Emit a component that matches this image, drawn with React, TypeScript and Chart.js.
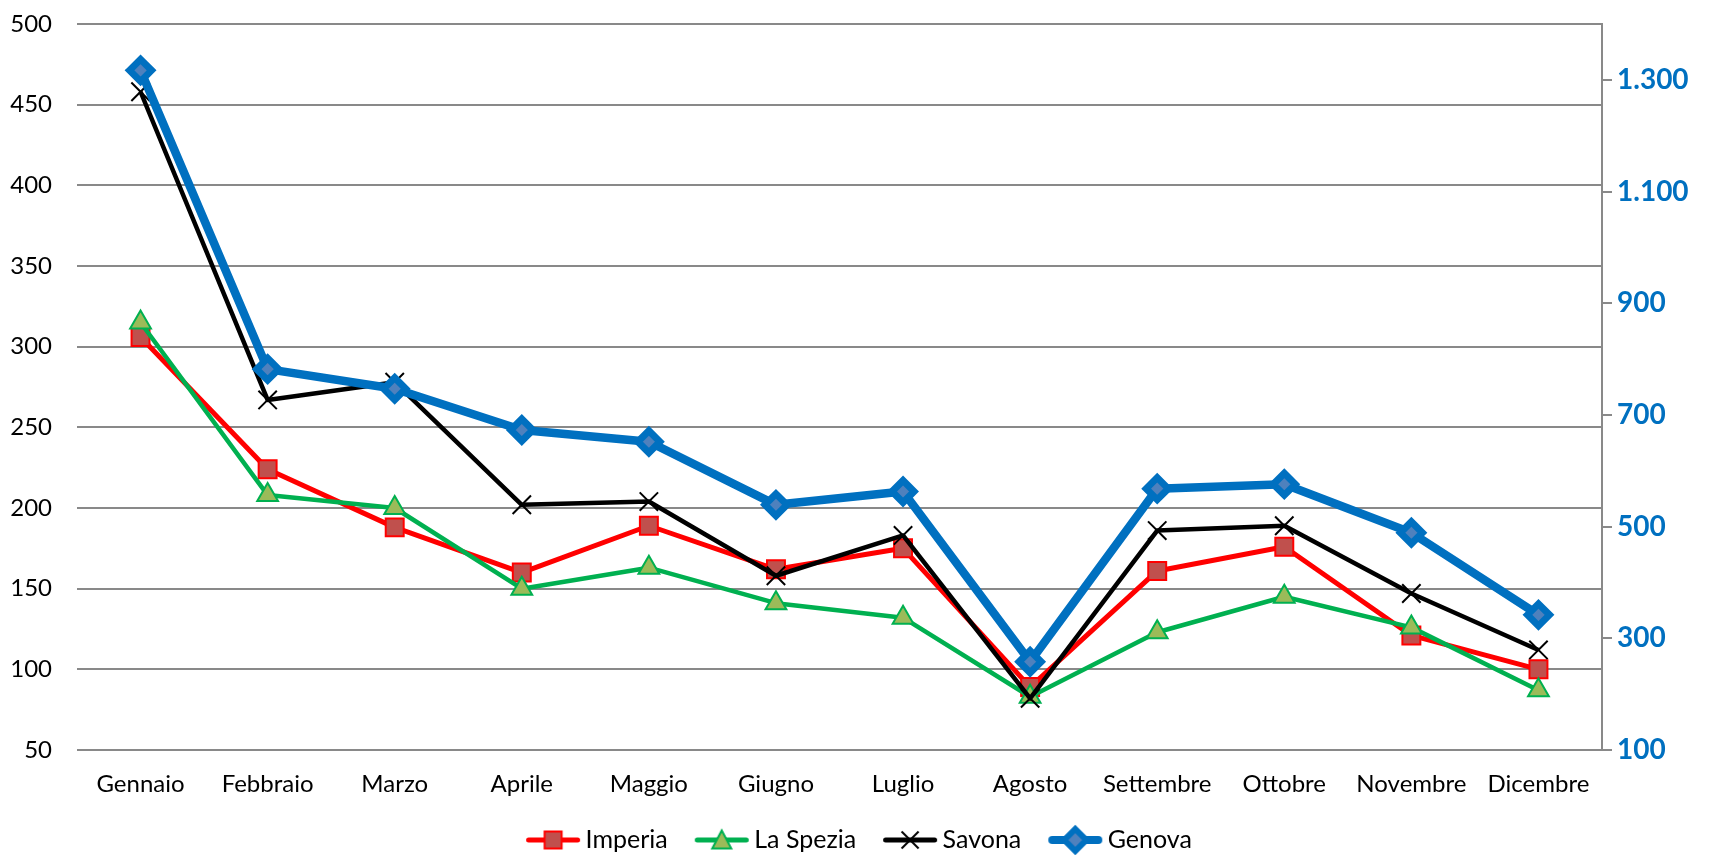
import React, { useEffect, useRef } from 'react';
import { Chart, registerables } from 'chart.js';

Chart.register(...registerables);

const months = ['Gennaio', 'Febbraio', 'Marzo', 'Aprile', 'Maggio', 'Giugno', 'Luglio', 'Agosto', 'Settembre', 'Ottobre', 'Novembre', 'Dicembre'];
const imperia = [306, 224, 188, 160, 189, 162, 175, 89, 161, 176, 121, 100];
const laSpezia = [315, 208, 200, 150, 163, 141, 132, 83, 123, 145, 126, 87];
const savona = [458, 267, 278, 202, 204, 158, 183, 82, 186, 189, 147, 112];
const genova = [1317, 782, 747, 673, 652, 539, 563, 258, 568, 576, 489, 342];
const rightTicks = [100, 300, 500, 700, 900, 1100, 1300];

const FONT = 'Lato, "Open Sans", sans-serif';
const GRID = '#898989';

function fmtIt(v: number): string {
  return Math.round(v).toString().replace(/\B(?=(\d{3})+(?!\d))/g, '.');
}

type MarkerKind = 'rect' | 'triangle' | 'crossRot' | 'rectRot';

function makeIcon(color: string, lw: number, kind: MarkerKind, fill: string, stroke: string, sw: number, size: number): HTMLCanvasElement {
  const c = document.createElement('canvas');
  c.width = 56;
  c.height = 34;
  const ctx = c.getContext('2d') as CanvasRenderingContext2D;
  const cx = 28;
  const cy = 17;
  ctx.strokeStyle = color;
  ctx.lineWidth = lw;
  ctx.lineCap = 'round';
  ctx.beginPath();
  ctx.moveTo(lw / 2 + 1, cy);
  ctx.lineTo(56 - lw / 2 - 1, cy);
  ctx.stroke();
  ctx.lineCap = 'butt';
  ctx.fillStyle = fill;
  ctx.strokeStyle = stroke;
  ctx.lineWidth = sw;
  ctx.beginPath();
  const h = size / 2;
  if (kind === 'rect') {
    ctx.rect(cx - h, cy - h, size, size);
    ctx.fill();
    ctx.stroke();
  } else if (kind === 'triangle') {
    ctx.moveTo(cx, cy - h - 1);
    ctx.lineTo(cx + h + 1, cy + h);
    ctx.lineTo(cx - h - 1, cy + h);
    ctx.closePath();
    ctx.fill();
    ctx.stroke();
  } else if (kind === 'crossRot') {
    ctx.moveTo(cx - h, cy - h);
    ctx.lineTo(cx + h, cy + h);
    ctx.moveTo(cx + h, cy - h);
    ctx.lineTo(cx - h, cy + h);
    ctx.stroke();
  } else {
    ctx.moveTo(cx, cy - h);
    ctx.lineTo(cx + h, cy);
    ctx.lineTo(cx, cy + h);
    ctx.lineTo(cx - h, cy);
    ctx.closePath();
    ctx.fill();
    ctx.stroke();
  }
  return c;
}

const legendShift = {
  id: 'legendShift',
  afterLayout(chart: any) {
    if (chart.legend) {
      chart.legend.left += 8;
      chart.legend.right += 8;
      chart.legend.top -= 5.5;
      chart.legend.bottom -= 5.5;
    }
  },
};

export default function App() {
  const ref = useRef<HTMLCanvasElement | null>(null);

  useEffect(() => {
    if (!ref.current) return;
    const icons = [
      makeIcon('#FF0000', 5, 'rect', '#C0504D', '#FF0000', 2, 17),
      makeIcon('#00B050', 5, 'triangle', '#9BBB59', '#00B050', 2, 17),
      makeIcon('#000000', 5, 'crossRot', '#000000', '#000000', 2, 17),
      makeIcon('#0070C0', 8, 'rectRot', '#4F81BD', '#0070C0', 6, 22),
    ];
    const tickFont = { family: FONT, size: 24 };
    const chart = new Chart(ref.current, {
      type: 'line',
      data: {
        labels: months,
        datasets: [
          {
            label: 'Imperia',
            data: imperia,
            yAxisID: 'y',
            borderColor: '#FF0000',
            backgroundColor: '#C0504D',
            borderWidth: 5,
            borderJoinStyle: 'round',
            pointStyle: 'rect',
            pointRadius: 12.7,
            pointBorderWidth: 2,
            pointBorderColor: '#FF0000',
            pointBackgroundColor: '#C0504D',
            tension: 0,
            order: 4,
          },
          {
            label: 'La Spezia',
            data: laSpezia,
            yAxisID: 'y',
            borderColor: '#00B050',
            backgroundColor: '#9BBB59',
            borderWidth: 4.5,
            borderJoinStyle: 'round',
            pointStyle: 'triangle',
            pointRadius: 12,
            pointBorderWidth: 2,
            pointBorderColor: '#00B050',
            pointBackgroundColor: '#9BBB59',
            tension: 0,
            order: 3,
          },
          {
            label: 'Savona',
            data: savona,
            yAxisID: 'y',
            borderColor: '#000000',
            backgroundColor: '#000000',
            borderWidth: 4.5,
            borderJoinStyle: 'round',
            pointStyle: 'crossRot',
            pointRadius: 13,
            pointBorderWidth: 2,
            pointBorderColor: '#000000',
            pointBackgroundColor: '#000000',
            tension: 0,
            order: 2,
          },
          {
            label: 'Genova',
            data: genova,
            yAxisID: 'y2',
            borderColor: '#0070C0',
            backgroundColor: '#4F81BD',
            borderWidth: 8.5,
            borderJoinStyle: 'round',
            pointStyle: 'rectRot',
            pointRadius: 11,
            pointBorderWidth: 7,
            pointBorderColor: '#0070C0',
            pointBackgroundColor: '#4F81BD',
            tension: 0,
            order: 1,
          },
        ],
      },
      options: {
        responsive: false,
        animation: false,
        events: [],
        layout: { padding: { top: 24, left: 0, right: 0, bottom: -13 } },
        scales: {
          x: {
            offset: true,
            grid: { display: false, drawTicks: false },
            border: { display: false },
            ticks: { padding: 20, autoSkip: false, maxRotation: 0, color: '#000000', font: tickFont },
            afterFit: (s: any) => { s.height = 49; },
          },
          y: {
            position: 'left',
            min: 50,
            max: 500,
            ticks: { stepSize: 50, padding: 25, color: '#000000', font: tickFont },
            grid: { color: GRID, lineWidth: 2, drawTicks: false },
            border: { display: false },
            afterFit: (s: any) => { s.width = 77; s.paddingTop = 0; s.paddingBottom = 0; },
          },
          y2: {
            position: 'right',
            min: 100,
            max: 1400,
            afterBuildTicks: (s: any) => { s.ticks = rightTicks.map((v) => ({ value: v })); },
            afterFit: (s: any) => { s.width = 107; s.paddingTop = 0; s.paddingBottom = 0; },
            grid: { drawOnChartArea: false, drawTicks: true, tickLength: 10, color: GRID, lineWidth: 2 },
            border: { display: true, color: GRID, width: 2 },
            ticks: {
              padding: 5,
              color: '#0070C0',
              font: { family: FONT, size: 28, weight: 'bold' },
              callback: (v: any) => fmtIt(Number(v)),
            },
          },
        },
        plugins: {
          tooltip: { enabled: false },
          legend: {
            position: 'bottom',
            labels: {
              usePointStyle: true,
              pointStyleWidth: 40,
              padding: 34,
              color: '#000000',
              font: { family: FONT, size: 25 },
              generateLabels: (ch: any) => {
                const items = Chart.defaults.plugins.legend.labels.generateLabels(ch);
                return items
                  .map((it: any) => ({ ...it, pointStyle: icons[it.datasetIndex] }))
                  .sort((a: any, b: any) => a.datasetIndex - b.datasetIndex);
              },
            },
          },
        },
      } as any,
      plugins: [legendShift],
    });
    return () => chart.destroy();
  }, []);

  return (
    <div style={{ position: 'fixed', left: 0, top: 0, width: 1709, height: 855, background: '#ffffff' }}>
      <canvas ref={ref} width={1709} height={855} style={{ display: 'block' }} />
    </div>
  );
}
